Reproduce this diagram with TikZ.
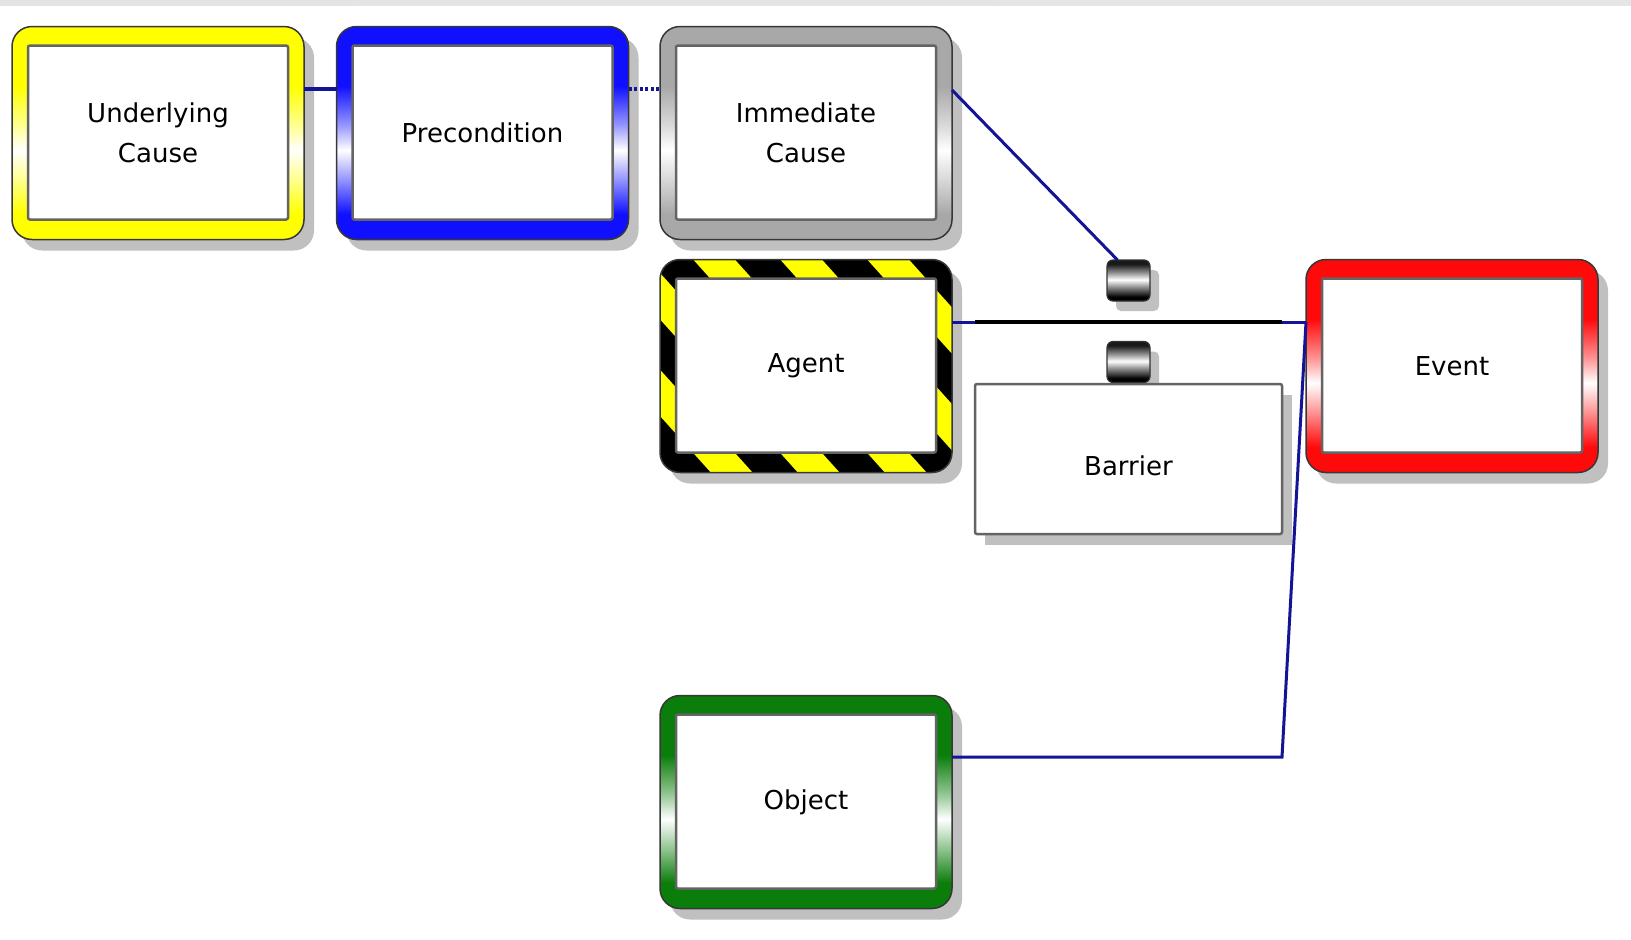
\documentclass[tikz,border=0pt]{standalone}
\usepackage{fontspec}
\setmainfont{DejaVu Sans}
\usetikzlibrary{backgrounds,calc}
\definecolor{fyel}{RGB}{255,255,0}
\definecolor{fblu}{RGB}{16,16,255}
\definecolor{fgry}{RGB}{168,168,168}
\definecolor{fred}{RGB}{255,10,10}
\definecolor{fgrn}{RGB}{10,125,10}
\definecolor{navyl}{RGB}{20,20,150}
\definecolor{shadowc}{RGB}{192,192,192}
\definecolor{rimc}{RGB}{55,55,55}
\definecolor{innerc}{RGB}{100,100,100}
\newcommand\mkframeshade[2]{\pgfdeclareverticalshading{#1}{100bp}{color(0bp)=(#2); color(31bp)=(#2); color(39bp)=(#2!45!white); color(46bp)=(white); color(52bp)=(#2!45!white); color(61bp)=(#2); color(100bp)=(#2)}}
\mkframeshade{yelshade}{fyel}
\mkframeshade{blushade}{fblu}
\mkframeshade{gryshade}{fgry}
\mkframeshade{redshade}{fred}
\mkframeshade{grnshade}{fgrn}
\pgfdeclareverticalshading{capshade}{100bp}{color(0bp)=(black); color(30bp)=(black); color(42bp)=(black!45); color(51bp)=(white); color(60bp)=(black!45); color(70bp)=(black!90); color(100bp)=(black!90)}
\newcommand\innerrect{\draw[fill=white, draw=innerc, line width=2.5, rounded corners=2] ([shift={(16,19)}]path picture bounding box.north west) rectangle ([shift={(-16,-20)}]path picture bounding box.south east);}
\begin{document}
\begin{tikzpicture}[x=1pt,y=-1pt,
  box/.style={rounded corners=20, minimum width=292, minimum height=213, inner sep=0, outer sep=0,
    draw=rimc, line width=1.5, font=\fontsize{26}{40}\selectfont, align=center,
    path picture={\innerrect}},
  hazardbox/.style={box, fill=black,
    path picture={\foreach \m in {-4,...,4}{\draw[fyel, line width=31] ([shift={(54+87*\m-90,-100)}]path picture bounding box.north west) -- ++(450,500);}\innerrect}},
  barrierbox/.style={draw=innerc, line width=2.5, fill=white, rounded corners=2, minimum width=307, minimum height=150, inner sep=0, outer sep=0, font=\fontsize{26}{40}\selectfont},
  capbox/.style={shading=capshade, draw=black!80, line width=1.2, rounded corners=6, minimum width=43, minimum height=41, inner sep=0, outer sep=0},
  conn/.style={draw=navyl, line width=3.5},
  dotconn/.style={draw=navyl, line width=3.5, dash pattern=on 3 off 2.5},
  blackseg/.style={draw=black, line width=4},
  shadowfill/.style={fill=shadowc}
]
\useasboundingbox (0,0) rectangle (1631,940);

\node[box, shading=yelshade] (uc) at (158,133) {Underlying\\Cause};
\node[box, shading=blushade] (pre) at (482.5,133) {Precondition};
\node[box, shading=gryshade] (ic) at (806,133) {Immediate\\Cause};
\node[hazardbox] (agent) at (806,366) {Agent};
\node[box, shading=redshade] (event) at (1452,366) {Event};
\node[box, shading=grnshade] (object) at (806,802) {Object};
\node[barrierbox] (barrier) at (1128.5,459) {\raisebox{-16pt}[0pt][0pt]{Barrier}};
\node[capbox] (capa) at (1128.5,280.5) {};
\node[capbox] (capb) at (1128.5,362) {};

\coordinate (ae1) at ([yshift=44]agent.east);
\coordinate (ae2) at ([yshift=44]event.west);
\coordinate (oe1) at ([yshift=45]object.east);
\coordinate (bend) at (barrier.east |- oe1);

\draw[conn] ([yshift=44]uc.east) -- ([yshift=44]pre.west);
\draw[dotconn] ([yshift=44]pre.east) -- ([yshift=44]ic.west);
\draw[conn, line width=3] ([yshift=43]ic.east) -- ([xshift=-11]capa.north);
\draw[conn, line width=3] (ae1) -- (ae2);
\draw[blackseg] (barrier.west |- ae1) -- (barrier.east |- ae1);
\draw[conn, line width=3] (oe1) -- (bend) -- (ae2);

\begin{scope}[on background layer]
  \fill[white] (0,0) rectangle (1631,940);
  \shade[left color=black!11, right color=blue!10!black!10] (0,0) rectangle (1631,5);
  \foreach \n in {uc,pre,ic,agent,event,object}{
    \fill[shadowfill, rounded corners=20] ([shift={(10,11)}]\n.north west) rectangle ([shift={(10,11)}]\n.south east);
  }
  \fill[shadowfill] ([shift={(10,11)}]barrier.north west) rectangle ([shift={(10,11)}]barrier.south east);
  \foreach \n in {capa,capb}{
    \fill[shadowfill, rounded corners=5] ([shift={(9,10)}]\n.north west) rectangle ([shift={(9,10)}]\n.south east);
  }
\end{scope}
\end{tikzpicture}
\end{document}
